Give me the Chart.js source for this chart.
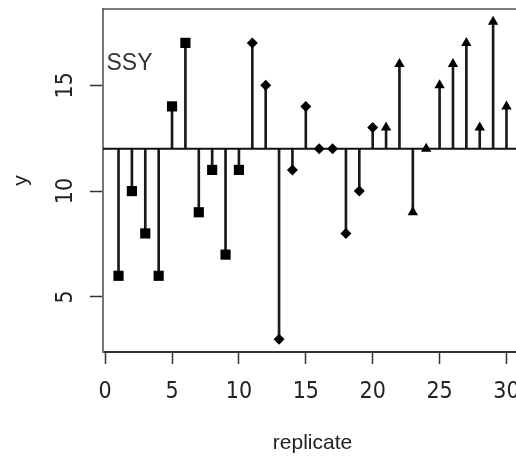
<!DOCTYPE html>
<html>
<head>
<meta charset="utf-8">
<script src="https://cdn.jsdelivr.net/npm/chart.js@4.4.1/dist/chart.umd.min.js"></script>
<style>
  html, body { margin: 0; padding: 0; background: #fff; overflow: hidden; }
</style>
</head>
<body>
<canvas id="stemChart" width="522" height="458"></canvas>
<script>
// replicate number and response for each run; symbol changes every ten replicates
const replicates = [1, 2, 3, 4, 5, 6, 7, 8, 9, 10, 11, 12, 13, 14, 15, 16, 17, 18, 19, 20,
                    21, 22, 23, 24, 25, 26, 27, 28, 29, 30];
const squareY = [6, 10, 8, 6, 14, 17, 9, 11, 7, 11];
const diamondY = [17, 15, 3, 11, 14, 12, 12, 8, 10, 13];
const triangleY = [13, 16, 9, 12, 15, 16, 17, 13, 18, 14];
const baseline = 12;

const xTicks = [0, 5, 10, 15, 20, 25, 30];
const yTicks = [5, 10, 15];
const xLimits = [-0.16, 31.16];
const yLimits = [2.4, 18.6];

const panelLabel = "SSY";
const labelPos = { x: 0.1, y: 16 };

const allY = squareY.concat(diamondY, triangleY);
const toPoints = (vals, start) => vals.map((v, i) => ({ x: replicates[start + i], y: v }));

const tickFamily = "'Liberation Sans Narrow', 'DejaVu Sans Condensed', sans-serif";
// tall line height pushes the x labels down without widening the side padding
const xTickFont = { family: tickFamily, size: 23, lineHeight: 2.43 };
const yTickFont = { family: tickFamily, size: 23 };
const titleFont = { family: "'Liberation Sans', Arial, sans-serif", size: 21 };

// top and right edges of the box (left/bottom come from the axis borders)
const boxPlugin = {
    id: "box",
    beforeDatasetsDraw(chart) {
        const { ctx, chartArea } = chart;
        ctx.save();
        ctx.strokeStyle = "#555";
        ctx.lineWidth = 1.5;
        ctx.beginPath();
        ctx.moveTo(chartArea.left, chartArea.top);
        ctx.lineTo(chartArea.right, chartArea.top);
        ctx.lineTo(chartArea.right, chartArea.bottom);
        ctx.stroke();
        ctx.restore();
    }
};

const textPlugin = {
    id: "panelText",
    afterDatasetsDraw(chart) {
        const { ctx, scales } = chart;
        ctx.save();
        ctx.fillStyle = "#333";
        ctx.font = "23px 'Liberation Sans', Arial, sans-serif";
        ctx.textAlign = "left";
        ctx.textBaseline = "middle";
        ctx.fillText(panelLabel, scales.x.getPixelForValue(labelPos.x), scales.y.getPixelForValue(labelPos.y));
        ctx.restore();
    }
};

const noPadding = (scale) => {
    scale.paddingTop = 0;
    scale.paddingBottom = 0;
    scale.paddingLeft = 0;
    scale.paddingRight = 0;
};

new Chart(document.getElementById("stemChart"), {
    type: "scatter",
    data: {
        datasets: [
            {
                label: "squares",
                data: toPoints(squareY, 0),
                pointStyle: "rect",
                pointRadius: 7.2,
                backgroundColor: "#000",
                borderWidth: 0,
                order: 0
            },
            {
                label: "diamonds",
                data: toPoints(diamondY, 10),
                pointStyle: "rectRot",
                pointRadius: 5.5,
                backgroundColor: "#000",
                borderWidth: 0,
                order: 0
            },
            {
                label: "triangles",
                data: toPoints(triangleY, 20),
                pointStyle: "triangle",
                pointRadius: 6,
                backgroundColor: "#000",
                borderWidth: 0,
                order: 0
            },
            {
                type: "line",
                label: "baseline",
                data: [{ x: xLimits[0], y: baseline }, { x: xLimits[1], y: baseline }],
                borderColor: "#111",
                borderWidth: 2,
                pointRadius: 0,
                showLine: true,
                order: 1
            },
            {
                type: "bar",
                label: "stems",
                data: replicates.map((r, i) => ({ x: r, y: [baseline, allY[i]] })),
                backgroundColor: "#1a1a1a",
                borderWidth: 0,
                barThickness: 2,
                grouped: false,
                order: 2
            }
        ]
    },
    options: {
        responsive: false,
        devicePixelRatio: 1,
        animation: false,
        layout: { autoPadding: false, padding: { top: 9, left: 0, right: 0, bottom: 0 } },
        plugins: {
            legend: { display: false },
            tooltip: { enabled: false }
        },
        scales: {
            x: {
                type: "linear",
                min: xLimits[0],
                max: xLimits[1],
                offset: false,
                afterBuildTicks: (scale) => { scale.ticks = xTicks.map(v => ({ value: v })); },
                afterFit: (scale) => { scale.height = 106; noPadding(scale); },
                grid: {
                    offset: false,
                    drawOnChartArea: false,
                    drawTicks: true,
                    tickLength: 12,
                    tickColor: "#333",
                    tickWidth: 1.5
                },
                border: { display: true, color: "#333", width: 2 },
                ticks: {
                    autoSkip: false,
                    maxRotation: 0,
                    padding: 0,
                    color: "#222",
                    font: xTickFont
                },
                title: {
                    display: true,
                    text: "replicate",
                    color: "#222",
                    font: titleFont,
                    padding: { top: 0, bottom: 2 }
                }
            },
            y: {
                type: "linear",
                min: yLimits[0],
                max: yLimits[1],
                afterBuildTicks: (scale) => { scale.ticks = yTicks.map(v => ({ value: v })); },
                afterFit: (scale) => { scale.width = 103; noPadding(scale); },
                grid: {
                    drawOnChartArea: false,
                    drawTicks: true,
                    tickLength: 13,
                    tickColor: "#333",
                    tickWidth: 1.5
                },
                border: { display: true, color: "#777", width: 2 },
                ticks: {
                    minRotation: 90,
                    maxRotation: 90,
                    crossAlign: "center",
                    padding: 11,
                    color: "#222",
                    font: yTickFont
                },
                title: {
                    display: true,
                    text: "y",
                    color: "#222",
                    font: titleFont,
                    padding: { top: 9, bottom: 0 }
                }
            }
        }
    },
    plugins: [boxPlugin, textPlugin]
});
</script>
</body>
</html>
